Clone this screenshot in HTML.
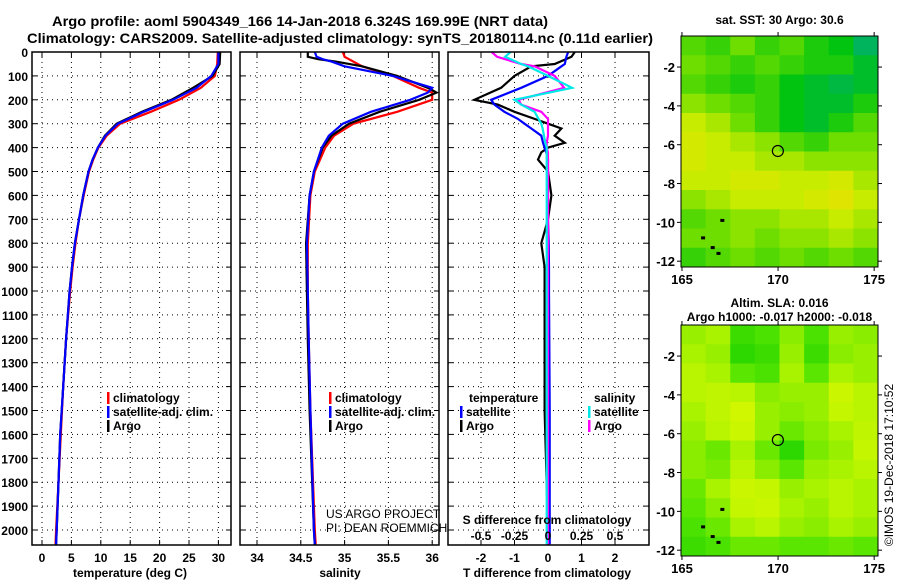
<!DOCTYPE html>
<html><head><meta charset="utf-8"><style>
html,body{margin:0;padding:0;background:#fff;}
svg{display:block;font-family:"Liberation Sans",sans-serif;font-weight:bold;}
</style></head><body>
<svg id="c" width="900" height="580" viewBox="0 0 900 580" xmlns="http://www.w3.org/2000/svg">
<text x="300" y="26" font-size="14" text-anchor="middle" textLength="496" lengthAdjust="spacingAndGlyphs">Argo profile: aoml 5904349_166 14-Jan-2018 6.324S 169.99E (NRT data)</text>
<text x="340" y="43" font-size="14" text-anchor="middle" textLength="626" lengthAdjust="spacingAndGlyphs">Climatology: CARS2009. Satellite-adjusted climatology: synTS_20180114.nc (0.11d earlier)</text>
<g id="g"></g>
</svg>
<script>
// ---------- data ----------
const depthsT = [0,50,100,150,200,250,300,350,400,450,500,600,700,800,900,1000,1200,1400,1600,1800,2000,2060];
const tempArgo = [30.3,30.2,29.0,25.7,22.0,17.0,12.7,10.7,9.5,8.6,7.9,7.0,6.3,5.6,5.1,4.7,4.1,3.6,3.1,2.8,2.5,2.4];
const tempClim = [29.9,29.8,29.4,27.0,23.3,18.5,13.3,11.0,9.6,8.7,8.0,7.1,6.3,5.7,5.2,4.8,4.1,3.6,3.2,2.8,2.4,2.3];
const tempSat  = [30.0,30.0,28.8,26.3,22.3,17.3,12.9,10.8,9.5,8.6,7.9,7.0,6.3,5.6,5.1,4.7,4.1,3.6,3.1,2.8,2.5,2.4];
const depthsS = [0,20,30,40,60,100,150,170,200,250,300,350,400,500,600,800,1000,1200,1500,2000,2060];
const salArgo = [34.58,34.58,34.7,34.9,35.2,35.6,35.95,36.05,35.85,35.4,35.05,34.85,34.75,34.65,34.6,34.56,34.57,34.58,34.6,34.65,34.66];
const salClim = [34.98,35.0,35.05,35.1,35.2,35.55,35.85,36.0,36.0,35.6,35.1,34.88,34.78,34.66,34.61,34.58,34.58,34.59,34.61,34.66,34.67];
const salSat  = [34.66,34.68,34.75,34.85,35.0,35.55,36.0,35.95,35.75,35.3,34.98,34.82,34.74,34.65,34.6,34.57,34.58,34.59,34.61,34.65,34.66];
const depthsD = [0,20,50,60,100,150,200,220,250,280,300,320,350,380,400,420,450,500,600,700,800,900,1000,1200,1500,2000,2060];
const tDiffArgo = [0.8,0.7,0.2,-0.5,-1.0,-1.4,-2.2,-1.5,-1.0,-0.4,0.0,0.4,0.2,0.5,0.0,-0.2,-0.3,0.0,0.1,0.0,-0.2,-0.1,-0.1,-0.1,-0.1,0.0,0.0];
const tDiffSat  = [0.6,0.55,0.5,0.4,0.0,-0.8,-1.7,-1.6,-1.3,-0.9,-0.7,-0.5,-0.2,-0.15,-0.1,-0.05,0.0,0.0,0.0,0.0,0.02,0.03,0.03,0.04,0.05,0.05,0.05];
const sDiffArgo = [-0.42,-0.38,-0.2,-0.1,0.05,0.12,-0.22,-0.2,-0.05,0.0,0.0,0.0,0.0,-0.01,-0.01,0.0,0.0,0.0,0.0,0.0,0.0,0.0,0.0,0.0,0.0,0.0,0.0];
const sDiffSat  = [-0.28,-0.32,-0.2,-0.15,0.0,0.18,-0.25,-0.2,-0.1,-0.07,-0.05,-0.04,-0.03,-0.02,-0.01,-0.01,-0.01,-0.01,-0.01,-0.01,-0.01,-0.01,-0.01,-0.01,-0.01,-0.01,-0.01];
const depthTicks = [0,100,200,300,400,500,600,700,800,900,1000,1100,1200,1300,1400,1500,1600,1700,1800,1900,2000];
const tTicks = [0,5,10,15,20,25,30];
const sTicks = [34,34.5,35,35.5,36];
const dTicks = [-2,-1,0,1,2];
const sdTicks = [-0.5,-0.25,0,0.25,0.5];
const sdTickLabels = ["-0.5","-0.25","0","0.25","0.5"];
const lonTicks = [165,170,175];
const latTicksTop = [-2,-4,-6,-8,-10,-12];
const latTicksBot = [-2,-4,-6,-8,-10,-12];
const sstGrid = [
[0.4,0.35,0.45,0.35,0.4,0.3,0.25,0.1],
[0.45,0.4,0.35,0.4,0.35,0.3,0.3,0.2],
[0.4,0.35,0.3,0.35,0.25,0.2,0.15,0.2],
[0.5,0.45,0.4,0.35,0.25,0.2,0.2,0.3],
[0.6,0.55,0.45,0.35,0.25,0.2,0.3,0.4],
[0.65,0.6,0.55,0.5,0.4,0.35,0.45,0.45],
[0.65,0.6,0.6,0.55,0.55,0.5,0.5,0.5],
[0.6,0.6,0.65,0.65,0.6,0.6,0.65,0.55],
[0.5,0.55,0.6,0.6,0.6,0.65,0.7,0.6],
[0.4,0.45,0.5,0.5,0.55,0.55,0.6,0.55],
[0.45,0.45,0.5,0.45,0.5,0.5,0.55,0.5],
[0.35,0.4,0.45,0.4,0.45,0.4,0.45,0.4]];
const slaGrid = [
[0.5,0.55,0.2,0.25,0.45,0.25,0.5,0.45],
[0.55,0.5,0.15,0.2,0.5,0.2,0.45,0.5],
[0.6,0.55,0.3,0.25,0.55,0.3,0.55,0.5],
[0.6,0.65,0.6,0.45,0.5,0.5,0.75,0.6],
[0.55,0.65,0.8,0.5,0.45,0.5,0.7,0.6],
[0.5,0.6,0.75,0.5,0.35,0.45,0.55,0.65],
[0.45,0.35,0.55,0.35,0.15,0.4,0.5,0.7],
[0.45,0.4,0.6,0.45,0.3,0.5,0.55,0.6],
[0.35,0.55,0.75,0.7,0.5,0.55,0.6,0.55],
[0.3,0.45,0.7,0.75,0.55,0.5,0.6,0.55],
[0.25,0.35,0.55,0.6,0.5,0.45,0.55,0.5],
[0.2,0.25,0.35,0.35,0.3,0.3,0.35,0.3]];
const argoLon = [169.99];
const argoLat = [-6.324];

// ---------- helpers ----------
const NS="http://www.w3.org/2000/svg";
const G=document.getElementById('g');
function el(tag,attrs,parent){const e=document.createElementNS(NS,tag);for(const k in attrs)e.setAttribute(k,attrs[k]);(parent||G).appendChild(e);return e;}
function txt(x,y,s,size,anchor,parent){const t=el('text',{x:x,y:y,'font-size':size,'text-anchor':anchor||'middle'},parent);t.textContent=s;return t;}
const Y0=52, PX100=23.9, YB=545;
const yD=d=>Y0+d*PX100/100;
const xT=v=>42+v*5.88;
const xS=v=>257+(v-34)*87.6;
const xD=v=>548+v*33.5;
const xSD=v=>548+v*134;

function panel(name){
  const g=el('g',{});
  
  
  return g;
}
function grid(g,x0,x1,xs){
  depthTicks.forEach(d=>{const y=yD(d);
    const l=el('line',{x1:x0,x2:x1,y1:y,y2:y,stroke:'#000','stroke-width':1,'stroke-dasharray':'1,4'},g);
    
    el('line',{x1:x0,x2:x0+5,y1:y,y2:y,stroke:'#000'},g);el('line',{x1:x1-5,x2:x1,y1:y,y2:y,stroke:'#000'},g);});
  xs.forEach(x=>{
    const l=el('line',{x1:x,x2:x,y1:Y0,y2:YB,stroke:'#000','stroke-width':1,'stroke-dasharray':'1,4'},g);
    
    el('line',{x1:x,x2:x,y1:Y0,y2:Y0+5,stroke:'#000'},g);el('line',{x1:x,x2:x,y1:YB-5,y2:YB,stroke:'#000'},g);});
}
function box(g,x0,x1){const r=el('rect',{x:x0,y:Y0,width:x1-x0,height:YB-Y0,fill:'none',stroke:'#000','stroke-width':1.5},g);
  }
function line(g,depths,vals,xf,color,name,clip){
  const pts=depths.map((d,i)=>xf(vals[i]).toFixed(1)+','+yD(Math.min(d,2063)).toFixed(1)).join(' ');
  const p=el('polyline',{points:pts,fill:'none',stroke:color,'stroke-width':2.2,'clip-path':clip},g);
  return p;}
function legend(g,x,y,color,label,name){
  const r=el('rect',{x:x,y:y-10,width:2.5,height:12,fill:color},g);
  
  const t=txt(x+6,y,label,12,'start',g);
  }

const defs=el('defs',{});
[['c1',32,231],['c2',240,439],['c3',448,649]].forEach(([id,a,b])=>{const cp=el('clipPath',{id:id},defs);el('rect',{x:a,y:Y0,width:b-a,height:YB-Y0},cp);});

const dl=el('g',{});
depthTicks.forEach(d=>{txt(28,yD(d)+5,String(d),12,'end',dl);});

let p1=panel('temperature-panel');
grid(p1,32,231,tTicks.map(xT));
line(p1,depthsT,tempClim,xT,'#ff0000','climatology-temperature-line','url(#c1)');
line(p1,depthsT,tempArgo,xT,'#000','argo-temperature-line','url(#c1)');
line(p1,depthsT,tempSat,xT,'#0000ff','satellite-temperature-line','url(#c1)');
box(p1,32,231);
tTicks.forEach(v=>{const t=txt(xT(v),562,String(v),12,'middle',p1);});
let at=txt(130,577,'temperature (deg C)',12,'middle',p1);
legend(p1,107,402,'#ff0000','climatology','legend-climatology');
legend(p1,107,416,'#0000ff','satellite-adj. clim.','legend-satellite-adj');
legend(p1,107,430,'#000','Argo','legend-argo');

let p2=panel('salinity-panel');
grid(p2,240,439,sTicks.map(xS));
line(p2,depthsS,salClim,xS,'#ff0000','climatology-salinity-line','url(#c2)');
line(p2,depthsS,salArgo,xS,'#000','argo-salinity-line','url(#c2)');
line(p2,depthsS,salSat,xS,'#0000ff','satellite-salinity-line','url(#c2)');
box(p2,240,439);
sTicks.forEach(v=>{const t=txt(xS(v),562,String(v),12,'middle',p2);});
at=txt(340,577,'salinity',12,'middle',p2);
legend(p2,329,402,'#ff0000','climatology','legend-climatology-sal');
legend(p2,329,416,'#0000ff','satellite-adj. clim.','legend-satellite-adj-sal');
legend(p2,329,430,'#000','Argo','legend-argo-sal');
let cr=el('text',{x:326,y:518,'font-size':12,'font-weight':'normal','text-anchor':'start'},p2);cr.textContent='US ARGO PROJECT';

cr=el('text',{x:326,y:532,'font-size':12,'font-weight':'normal','text-anchor':'start'},p2);cr.textContent='PI: DEAN ROEMMICH';


let p3=panel('difference-panel');
grid(p3,448,649,dTicks.map(xD));
line(p3,depthsD,tDiffArgo,xD,'#000','argo-temperature-difference-line','url(#c3)');
line(p3,depthsD,tDiffSat,xD,'#0000ff','satellite-temperature-difference-line','url(#c3)');
line(p3,depthsD,sDiffArgo,xSD,'#ff00ff','argo-salinity-difference-line','url(#c3)');
line(p3,depthsD,sDiffSat,xSD,'#00e8e8','satellite-salinity-difference-line','url(#c3)');
box(p3,448,649);
dTicks.forEach(v=>{const t=txt(xD(v),562,String(v),12,'middle',p3);});
sdTicks.forEach((v,i)=>{const t=txt(xSD(v),540,sdTickLabels[i],12,'middle',p3);});
at=txt(547,577,'T difference from climatology',12,'middle',p3);
at=txt(547,524,'S difference from climatology',12,'middle',p3);
let lt=txt(469,402,'temperature',12,'start',p3);
legend(p3,460,416,'#0000ff','satellite','legend-t-satellite');
legend(p3,460,430,'#000','Argo','legend-t-argo');
lt=txt(594,402,'salinity',12,'start',p3);
legend(p3,588,416,'#00e8e8','satellite','legend-s-satellite');
legend(p3,588,430,'#ff00ff','Argo','legend-s-argo');

// ---------- maps ----------
function lerpColor(stops,v){
  for(let i=0;i<stops.length-1;i++){const [a,ca]=stops[i],[b,cb]=stops[i+1];
    if(v<=b||i==stops.length-2){const t=Math.max(0,Math.min(1,(v-a)/(b-a)));
      const c=[0,1,2].map(k=>Math.round(ca[k]+(cb[k]-ca[k])*t));return 'rgb('+c.join(',')+')';}}
}
const sstStops=[[0,[0,168,144]],[0.25,[0,196,16]],[0.45,[110,222,0]],[0.6,[200,236,0]],[0.75,[235,226,0]],[0.9,[240,160,0]]];
const slaStops=[[0,[0,200,0]],[0.3,[90,230,0]],[0.6,[185,244,0]],[1,[230,250,0]]];
function map(name,x0,x1,y0,y1,gridV,stops,latTicks,title1,title2){
  const g=el('g',{});
  const lonA=164.95,lonB=175.2,latA=-0.4,latB=-12.3;
  const X=lon=>x0+(lon-lonA)/(lonB-lonA)*(x1-x0);
  const Y=lat=>y0+(lat-latA)/(latB-latA)*(y1-y0);
  const rows=gridV.length,cols=gridV[0].length,cw=(x1-x0)/cols,ch=(y1-y0)/rows;
  gridV.forEach((row,r)=>row.forEach((v,c)=>{
    const cell=el('rect',{x:(x0+c*cw).toFixed(2),y:(y0+r*ch).toFixed(2),width:(cw+0.5).toFixed(2),height:(ch+0.5).toFixed(2),fill:lerpColor(stops,v)},g);
    }));
  const fr=el('rect',{x:x0,y:y0,width:x1-x0,height:y1-y0,fill:'none',stroke:'#000','stroke-width':1},g);
  
  lonTicks.forEach(l=>{const x=X(l);el('line',{x1:x,x2:x,y1:y0-4,y2:y0,stroke:'#000'},g);el('line',{x1:x,x2:x,y1:y1,y2:y1+4,stroke:'#000'},g);
    const t=txt(x,y1+17,String(l),13,'middle',g);});
  latTicks.forEach(l=>{const y=Y(l);el('line',{x1:x0-4,x2:x0,y1:y,y2:y,stroke:'#000'},g);el('line',{x1:x1,x2:x1+4,y1:y,y2:y,stroke:'#000'},g);
    const t=txt(x0-6,y+5,String(l),13,'end',g);});
  argoLon.forEach((lo,i)=>{const c=el('circle',{cx:X(lo),cy:Y(argoLat[i]),r:5.5,fill:'none',stroke:'#000','stroke-width':1.2},g);
    });
  [[166.1,-10.8],[166.6,-11.3],[166.9,-11.6],[167.1,-9.9]].forEach(([lo,la])=>{el('rect',{x:X(lo)-2,y:Y(la)-1.5,width:4,height:3,fill:'#000'},g);});
  let t=txt((x0+x1)/2,title2?y0-18:y0-12,title1,12,'middle',g);
  if(title2){t=txt((x0+x1)/2,y0-4,title2,12,'middle',g);}
}
map('sst-map',681,878,36,267,sstGrid,sstStops,latTicksTop,'sat. SST: 30 Argo: 30.6');
map('sla-map',681,878,325,556,slaGrid,slaStops,latTicksBot,'Altim. SLA: 0.016','Argo h1000: -0.017 h2000: -0.018');
const st=el('text',{x:0,y:0,'font-size':12,'font-weight':'normal','text-anchor':'middle',transform:'translate(893,465) rotate(-90)'});
st.textContent='©IMOS 19-Dec-2018 17:10:52';


</script>
</body></html>
